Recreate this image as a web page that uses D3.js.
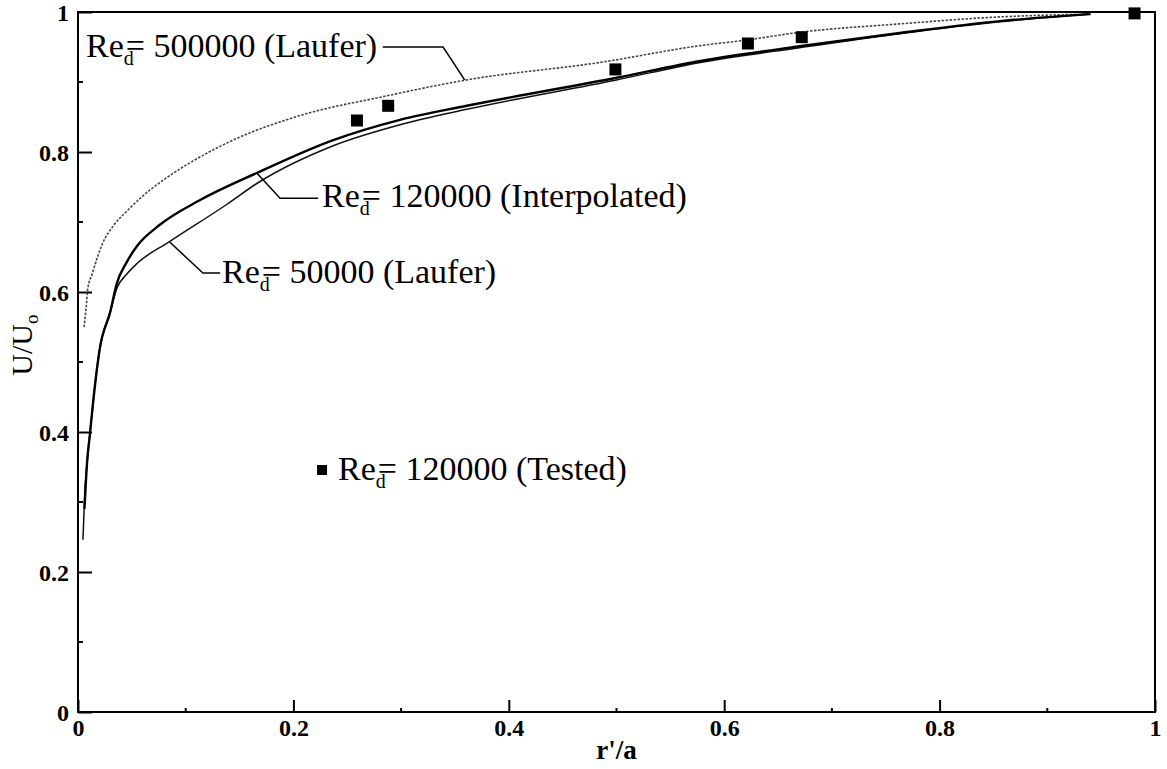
<!DOCTYPE html>
<html>
<head>
<meta charset="utf-8">
<script src="https://cdn.jsdelivr.net/npm/d3@7"></script>
<style>
    body { margin: 0; background: #fff; }
    svg text { font-family: "Liberation Serif", "Times New Roman", serif; fill: #000; }
</style>
</head>
<body>
<div id="chart"></div>
<script>
// axis ticks
const majorTicks = [0, 0.2, 0.4, 0.6, 0.8, 1];
const minorTicks = [0.1, 0.3, 0.5, 0.7, 0.9];
const xTickLabels = ["0", "0.2", "0.4", "0.6", "0.8", "1"];
const yTickLabels = ["0", "0.2", "0.4", "0.6", "0.8", "1"];

// Re_d = 500000 (Laufer)
const r500k = [0.0056, 0.008, 0.009, 0.013, 0.023, 0.033, 0.045, 0.06, 0.083, 0.11, 0.144, 0.206, 0.283, 0.361, 0.485, 0.578, 0.621, 0.67, 0.763, 0.856, 0.94];
const u500k = [0.55, 0.585, 0.604, 0.625, 0.67, 0.695, 0.715, 0.737, 0.764, 0.79, 0.817, 0.852, 0.879, 0.903, 0.928, 0.952, 0.96, 0.971, 0.983, 0.993, 0.997];

// Re_d = 120000 (Interpolated)
const r120k = [0.006, 0.0084, 0.011, 0.016, 0.02, 0.03, 0.036, 0.045, 0.055, 0.076, 0.113, 0.166, 0.237, 0.299, 0.361, 0.5, 0.578, 0.67, 0.763, 0.856, 0.94];
const u120k = [0.29, 0.356, 0.396, 0.47, 0.517, 0.572, 0.612, 0.642, 0.666, 0.696, 0.731, 0.77, 0.817, 0.846, 0.866, 0.906, 0.93, 0.951, 0.97, 0.987, 0.997];

// Re_d = 50000 (Laufer)
const r50k = [0.0046, 0.0062, 0.0084, 0.011, 0.016, 0.02, 0.03, 0.036, 0.045, 0.055, 0.085, 0.138, 0.166, 0.237, 0.299, 0.361, 0.5, 0.578, 0.67, 0.763, 0.856, 0.94];
const u50k = [0.246, 0.31, 0.356, 0.396, 0.47, 0.517, 0.572, 0.605, 0.625, 0.641, 0.672, 0.725, 0.755, 0.809, 0.839, 0.861, 0.903, 0.928, 0.949, 0.969, 0.986, 0.997];

// Re_d = 120000 (Tested)
const rTested = [0.259, 0.288, 0.499, 0.622, 0.672, 0.981];
const uTested = [0.845, 0.866, 0.918, 0.955, 0.964, 0.998];

const width = 1167, height = 769;
const margin = {top: 12, right: 12, bottom: 57, left: 78};
const w = width - margin.left - margin.right;
const h = height - margin.top - margin.bottom;

const x = d3.scaleLinear().domain([0, 1]).range([0, w]);
const y = d3.scaleLinear().domain([0, 1]).range([h, 0]);

const svg = d3.select("#chart").append("svg")
    .attr("width", width)
    .attr("height", height)
    .append("g")
    .attr("transform", "translate(" + margin.left + "," + margin.top + ")");

// frame
svg.append("rect")
    .attr("width", w)
    .attr("height", h)
    .attr("fill", "none")
    .attr("stroke", "#000")
    .attr("stroke-width", 2);

// x axis, ticks inward
const xAxis = svg.append("g")
    .attr("transform", "translate(0," + h + ")")
    .call(d3.axisBottom(x).tickValues(majorTicks).tickSizeInner(-12).tickSizeOuter(0)
        .tickFormat((d, i) => xTickLabels[i]));
xAxis.append("g").selectAll("line")
    .data(minorTicks)
    .join("line")
    .attr("x1", d => x(d)).attr("x2", d => x(d))
    .attr("y1", 0).attr("y2", -4)
    .attr("stroke", "#000").attr("stroke-width", 2);

const yAxis = svg.append("g")
    .call(d3.axisLeft(y).tickValues(majorTicks).tickSizeInner(-14).tickSizeOuter(0)
        .tickFormat((d, i) => yTickLabels[i]));
yAxis.append("g").selectAll("line")
    .data(minorTicks)
    .join("line")
    .attr("x1", 0).attr("x2", 5)
    .attr("y1", d => y(d)).attr("y2", d => y(d))
    .attr("stroke", "#000").attr("stroke-width", 2);

[xAxis, yAxis].forEach(a => {
    a.attr("font-family", "Liberation Serif").attr("font-size", null);
    a.select(".domain").remove();
    a.selectAll(".tick line").attr("stroke-width", 2);
    a.selectAll(".tick text")
        .style("font-size", "24px")
        .style("font-weight", "bold");
});
xAxis.selectAll(".tick text").attr("y", 7).attr("dy", "0.71em");
yAxis.selectAll(".tick text").attr("x", -9).attr("dy", "0.35em");

// axis titles
svg.append("text")
    .attr("x", x(0.5))
    .attr("y", h + 47)
    .attr("text-anchor", "middle")
    .style("font-size", "27px")
    .style("font-weight", "bold")
    .text("r'/a");

const yTitle = svg.append("text")
    .attr("transform", "translate(" + (-46) + "," + y(0.524) + ") rotate(-90)")
    .attr("text-anchor", "middle")
    .style("font-size", "30px");
yTitle.append("tspan").text("U/U");
yTitle.append("tspan").attr("dy", 6).style("font-size", "19px").text("o");

// curves
const line = d3.line()
    .x(d => x(d[0]))
    .y(d => y(d[1]))
    .curve(d3.curveMonotoneX);

svg.append("path")
    .datum(d3.zip(r500k, u500k))
    .attr("fill", "none")
    .attr("stroke", "#444")
    .attr("stroke-width", 1.6)
    .attr("stroke-dasharray", "2.5,1.5")
    .attr("d", line);

svg.append("path")
    .datum(d3.zip(r50k, u50k))
    .attr("fill", "none")
    .attr("stroke", "#111")
    .attr("stroke-width", 1.5)
    .attr("d", line);

svg.append("path")
    .datum(d3.zip(r120k, u120k))
    .attr("fill", "none")
    .attr("stroke", "#000")
    .attr("stroke-width", 2.4)
    .attr("d", line);

// tested points
const sq = 12;
svg.append("g").selectAll("rect")
    .data(d3.zip(rTested, uTested))
    .join("rect")
    .attr("x", d => x(d[0]) - sq / 2)
    .attr("y", d => y(d[1]) - sq / 2)
    .attr("width", sq)
    .attr("height", sq)
    .attr("fill", "#000");

// annotations: leader lines in data coordinates, label start + baseline
const annotations = [
    {text: "= 500000 (Laufer)", at: [0.0074, 0.936], leader: [[0.283, 0.95], [0.339, 0.95], [0.359, 0.903]]},
    {text: "= 120000 (Interpolated)", at: [0.2266, 0.721], leader: [[0.166, 0.77], [0.1876, 0.734], [0.223, 0.734]]},
    {text: "= 50000 (Laufer)", at: [0.1337, 0.613], leader: [[0.0854, 0.671], [0.116, 0.627], [0.132, 0.627]]},
    {text: "= 120000 (Tested)", at: [0.2414, 0.331], leader: null}
];

const leader = d3.line().x(d => x(d[0])).y(d => y(d[1]));

annotations.forEach(a => {
    if (a.leader) {
        svg.append("path")
            .attr("d", leader(a.leader))
            .attr("fill", "none")
            .attr("stroke", "#000")
            .attr("stroke-width", 1.5);
    }
    const t = svg.append("text")
        .attr("x", x(a.at[0]))
        .attr("y", y(a.at[1]))
        .style("font-size", "34px");
    t.append("tspan").text("Re");
    t.append("tspan").attr("dy", 8).style("font-size", "20px").text("d");
    t.append("tspan").attr("dy", -8).attr("dx", -8).text(a.text);
});

// legend square for tested points
svg.append("rect")
    .attr("x", x(0.2266) - 5)
    .attr("y", y(0.3457) - 5)
    .attr("width", 10)
    .attr("height", 10)
    .attr("fill", "#000");
</script>
</body>
</html>
